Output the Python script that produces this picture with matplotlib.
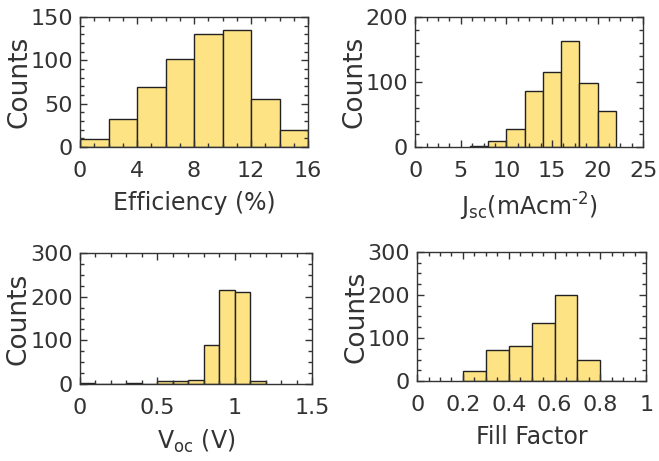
import matplotlib.pyplot as plt
from matplotlib.ticker import AutoMinorLocator

# histogram data (bin edges + counts)
eff_edges = [0, 2, 4, 6, 8, 10, 12, 14, 16]
eff_counts = [9, 32, 69, 102, 131, 135, 56, 20]

jsc_edges = [6, 8, 10, 12, 14, 16, 18, 20, 22]
jsc_counts = [1, 9, 28, 86, 115, 163, 99, 56]

voc_edges = [0.0, 0.1, 0.2, 0.3, 0.4, 0.5, 0.6, 0.7, 0.8, 0.9, 1.0, 1.1, 1.2]
voc_counts = [2, 0, 0, 2, 0, 8, 6, 9, 90, 215, 211, 8]

ff_edges = [0.2, 0.3, 0.4, 0.5, 0.6, 0.7, 0.8, 0.9]
ff_counts = [23, 72, 81, 135, 200, 49, 1]

fill = "#fee384"
edge = "#222222"
txt = "#333333"

plt.rcParams["font.family"] = "DejaVu Sans"
plt.rcParams["mathtext.fontset"] = "dejavusans"

fig = plt.figure(figsize=(6.59, 4.61), dpi=100)


def draw(rect, edges, counts, xlim, xticks, xminor, ylim, yticks, yminor, xlabel):
    ax = fig.add_axes(rect)
    widths = [edges[i + 1] - edges[i] for i in range(len(counts))]
    ax.bar(edges[:-1], counts, width=widths, align="edge",
           color=fill, edgecolor=edge, linewidth=1.0)
    ax.set_xlim(xlim)
    ax.set_ylim(ylim)
    ax.set_xticks(xticks)
    ax.set_yticks(yticks)
    ax.set_xticklabels([f"{t:g}" for t in xticks])
    ax.xaxis.set_minor_locator(AutoMinorLocator(xminor))
    ax.yaxis.set_minor_locator(AutoMinorLocator(yminor))
    ax.tick_params(which="both", direction="in", top=True, right=True,
                   colors=txt, labelsize=16, width=1.0)
    ax.tick_params(which="major", length=5)
    ax.tick_params(which="minor", length=3)
    ax.tick_params(axis="x", which="major", pad=10)
    ax.tick_params(axis="y", which="major", pad=5)
    for s in ax.spines.values():
        s.set_color(txt)
        s.set_linewidth(1.0)
    ax.set_ylabel("Counts", fontsize=19, color=txt)
    ax.yaxis.set_label_coords(-0.21, 0.5)
    ax.set_xlabel(xlabel, fontsize=17, color=txt, labelpad=7)
    return ax


draw([0.1214, 0.681, 0.346, 0.282], eff_edges, eff_counts,
     (0, 16), [0, 4, 8, 12, 16], 4, (0, 150), [0, 50, 100, 150], 5,
     "Efficiency (%)")
draw([0.630, 0.681, 0.346, 0.282], jsc_edges, jsc_counts,
     (0, 25), [0, 5, 10, 15, 20, 25], 4, (0, 200), [0, 100, 200], 5,
     "J$_{\\rm sc}$(mAcm$^{\\rm \u20102}$)")
draw([0.1214, 0.167, 0.352, 0.284], voc_edges, voc_counts,
     (0, 1.5), [0, 0.5, 1, 1.5], 5, (0, 300), [0, 100, 200, 300], 4,
     r"V$_{\rm oc}$ (V)")
draw([0.633, 0.1735, 0.3475, 0.280], ff_edges, ff_counts,
     (0, 1), [0, 0.2, 0.4, 0.6, 0.8, 1], 4, (0, 300), [0, 100, 200, 300], 4,
     "Fill Factor")

fig.savefig("out.png", dpi=100)
